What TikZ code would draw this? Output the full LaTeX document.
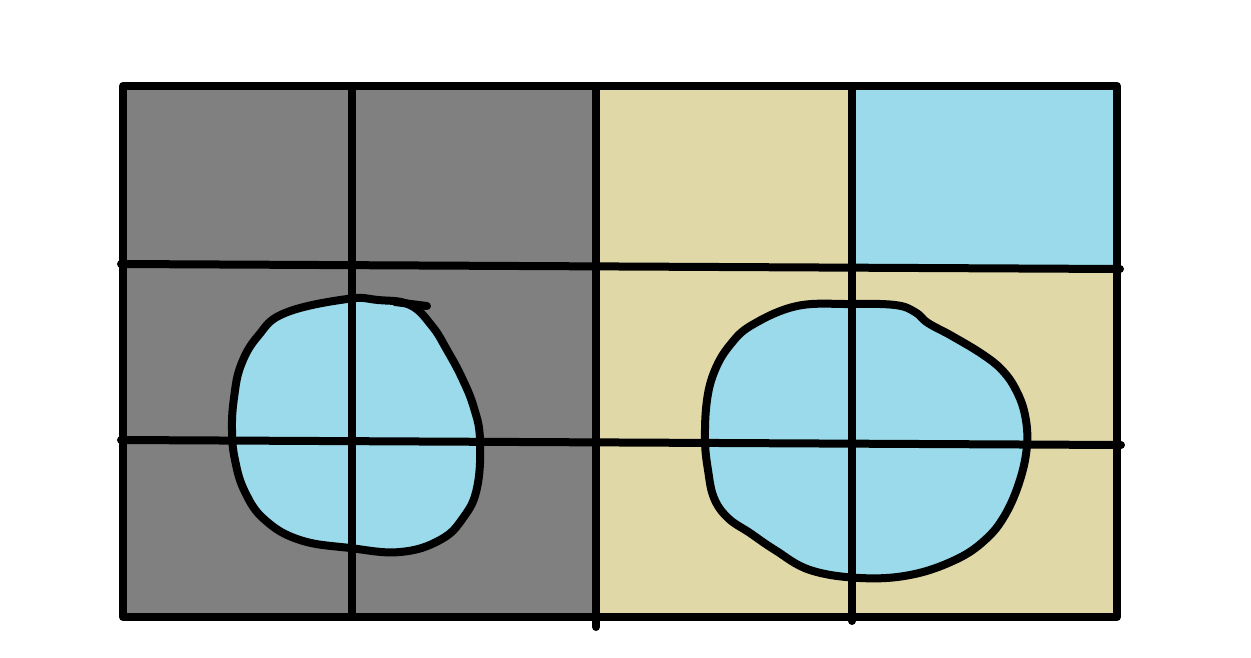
\documentclass[tikz,border=0pt]{standalone}
\definecolor{cgray}{HTML}{808080}
\definecolor{cbeige}{HTML}{E1D8A8}
\definecolor{cblue}{HTML}{9ADAEA}
\tikzset{ink/.style={line width=8pt,line cap=round,line join=round,black},
blob/.style={ink,fill=cblue}}
\begin{document}
\begin{tikzpicture}[x=1pt,y=-1pt]
\useasboundingbox[fill=white] (0,0) rectangle (1251,657);
% fills
\fill[cgray] (123,86) rectangle (596,617);
\fill[cbeige] (596,86) rectangle (1117,617);
\fill[cblue] (852,86) rectangle (1117,268);
% blobs
\draw[blob] plot[smooth cycle,tension=0.7] coordinates {
(347,299) (378,300) (410,305) (432,326) (447,350) (462,378) (474,408) (480,440)
(477,488) (463,518) (440,540) (400,552) (350,548) (300,540) (265,520) (245,492)
(235,460) (232,430) (234,398) (241,365) (258,336) (285,313)};
\draw[ink] (395,302) -- (427,306);
\draw[blob] plot[smooth cycle,tension=0.65] coordinates {
(797,306) (850,304) (895,305) (915,312) (928,323) (952,336) (982,354) (1002,370)
(1016,390) (1025,415) (1027,445) (1020,480) (1005,515) (985,540) (955,560) (910,575)
(860,578) (810,570) (775,550) (750,533) (728,518) (714,498) (708,470) (705,440)
(707,400) (715,370) (730,345) (752,325)};
% grid
\coordinate (tl) at (123,86);
\coordinate (tr) at (1117,86);
\coordinate (bl) at (123,617);
\coordinate (br) at (1117,617);
\draw[ink] (tl) -- (tr) -- (br) -- (bl) -- cycle;
\coordinate (m1) at (596,86); \coordinate (m2) at (596,627);
\draw[ink] (m1) -- (m2);
\coordinate (a1) at (352,86); \coordinate (a2) at (352,614);
\draw[ink] (a1) -- (a2);
\coordinate (b1) at (852,86); \coordinate (b2) at (852,621);
\draw[ink] (b1) -- (b2);
\coordinate (h1) at (121,264); \coordinate (h2) at (1120,269);
\draw[ink] (h1) -- (h2);
\coordinate (g1) at (121,440); \coordinate (g2) at (1121,445);
\draw[ink] (g1) -- (g2);
\end{tikzpicture}
\end{document}
